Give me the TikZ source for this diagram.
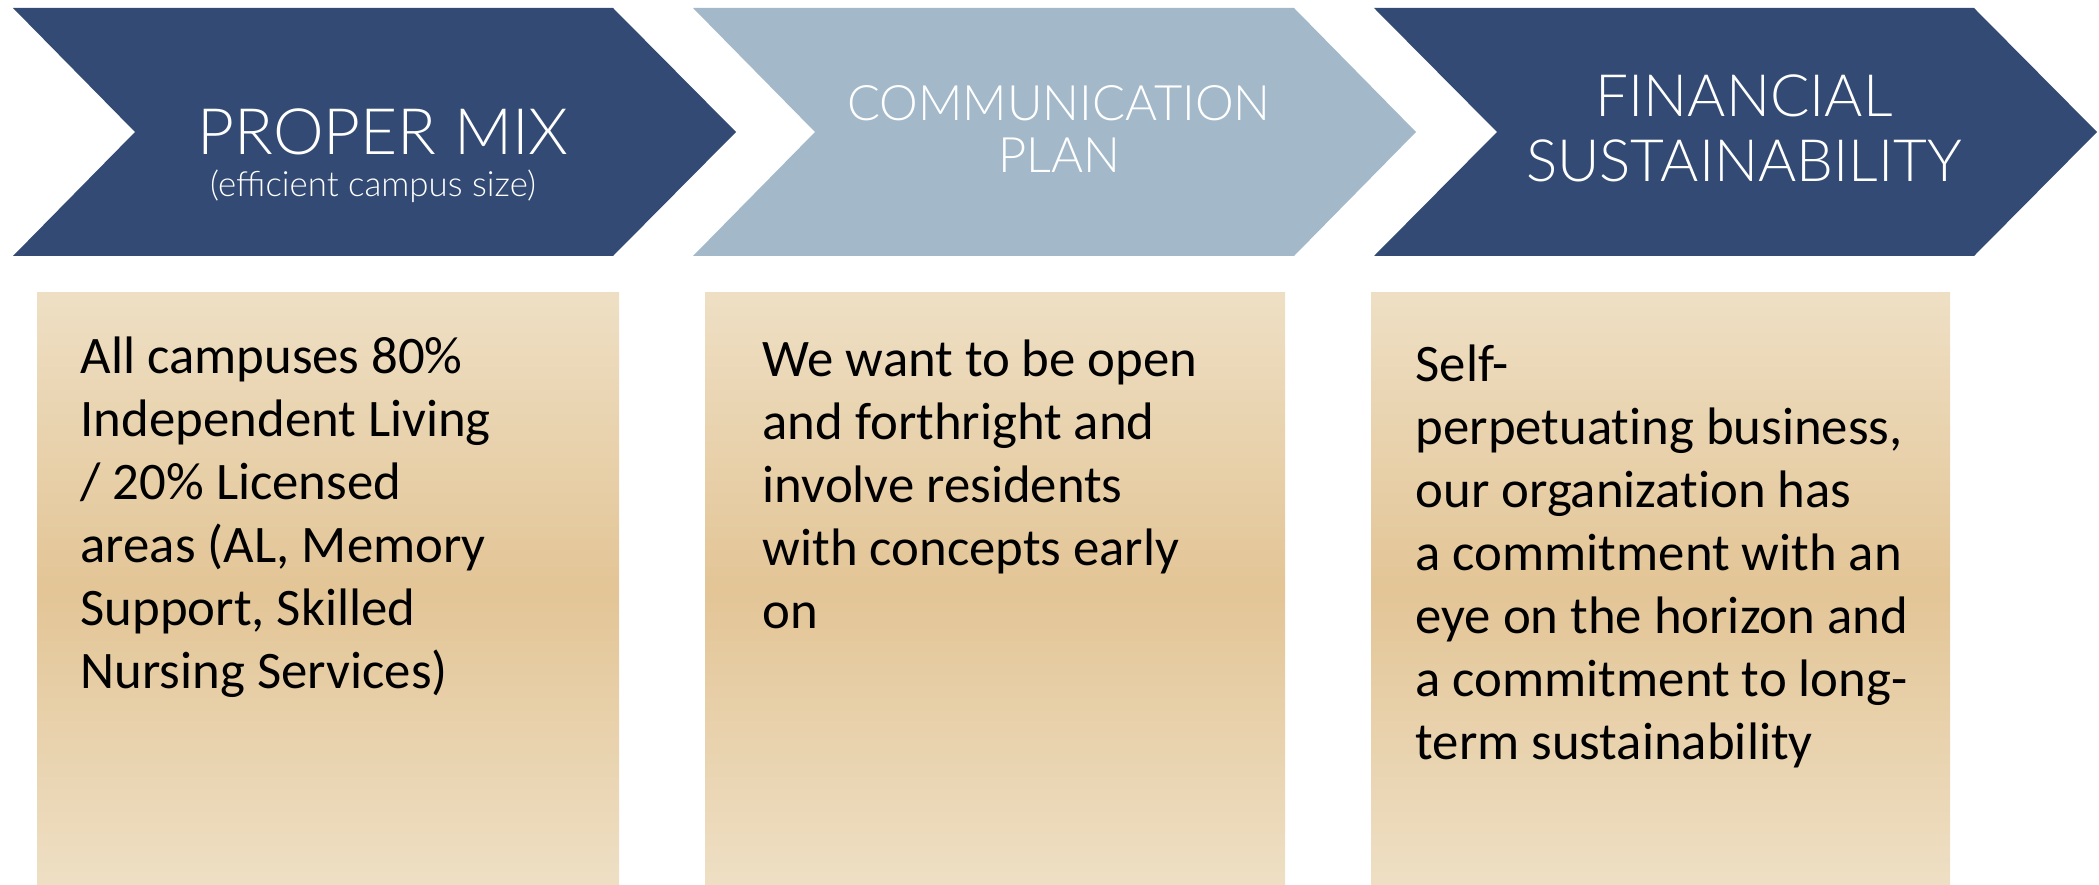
\documentclass[tikz,border=0pt]{standalone}
\usepackage{fontspec}
\setmainfont{Carlito}[Ligatures=NoCommon]
\newfontfamily\hdrfont{Lato Light}
\definecolor{navy}{HTML}{334B74}
\definecolor{paleblue}{HTML}{A3B9CA}
\definecolor{tanlight}{HTML}{EEDFC4}
\definecolor{tandark}{HTML}{E3C596}
\tikzset{
  chevdark/.style={fill=navy},
  chevlight/.style={fill=paleblue},
  tanbox/.style={top color=tanlight, bottom color=tanlight, middle color=tandark},
  hdr/.style={text=white, inner sep=0pt, align=center, font=\hdrfont},
  body/.style={text=black, inner sep=0pt, align=left, anchor=base west,
    font={\fontsize{15}{17.9}\selectfont}},
}
\begin{document}
\begin{tikzpicture}[x=0.01cm, y=-0.01cm]
\useasboundingbox (0,0) rectangle (2099,885);
% chevrons
\fill[chevdark]  (13,8) -- (613,8) -- (736,132) -- (613,256) -- (13,256) -- (135,132) -- cycle;
\fill[chevlight] (693,8) -- (1294,8) -- (1416,132) -- (1294,256) -- (693,256) -- (815,132) -- cycle;
\fill[chevdark]  (1374,8) -- (1974,8) -- (2097,132) -- (1974,256) -- (1374,256) -- (1497,132) -- cycle;
% boxes
\shade[tanbox] (37,293) rectangle (619,885);
\shade[tanbox] (705,293) rectangle (1285,885);
\shade[tanbox] (1371,293) rectangle (1950,885);
% headers
\node[hdr, anchor=base, font={\hdrfont\fontsize{18.2}{20}\selectfont}] (h1) at (383,155) {PROPER MIX};
\node[hdr, anchor=base, font={\hdrfont\fontsize{9.9}{12}\selectfont}] (h1s) at (373,197) {(efficient campus size)};
\node[hdr, anchor=base, font={\hdrfont\fontsize{13.9}{14.8}\selectfont}] (h2) at (1059,173) {COMMUNICATION\\PLAN};
\node[hdr, anchor=base, font={\hdrfont\fontsize{16.6}{18.5}\selectfont}] (h3) at (1744,182) {FINANCIAL\\SUSTAINABILITY};
% body texts (anchored at the baseline of the last line)
\node[body] (t1) at (80,688) {All campuses 80\%\\Independent Living\\/ 20\% Licensed\\areas (AL, Memory\\Support, Skilled\\Nursing Services)};
\node[body] (t2) at (762,628) {We want to be open\\and forthright and\\involve residents\\with concepts early\\on};
\node[body] (t3) at (1415,759) {Self-\\perpetuating business,\\our organization has\\a commitment with an\\eye on the horizon and\\a commitment to long-\\term sustainability};
\end{tikzpicture}
\end{document}
